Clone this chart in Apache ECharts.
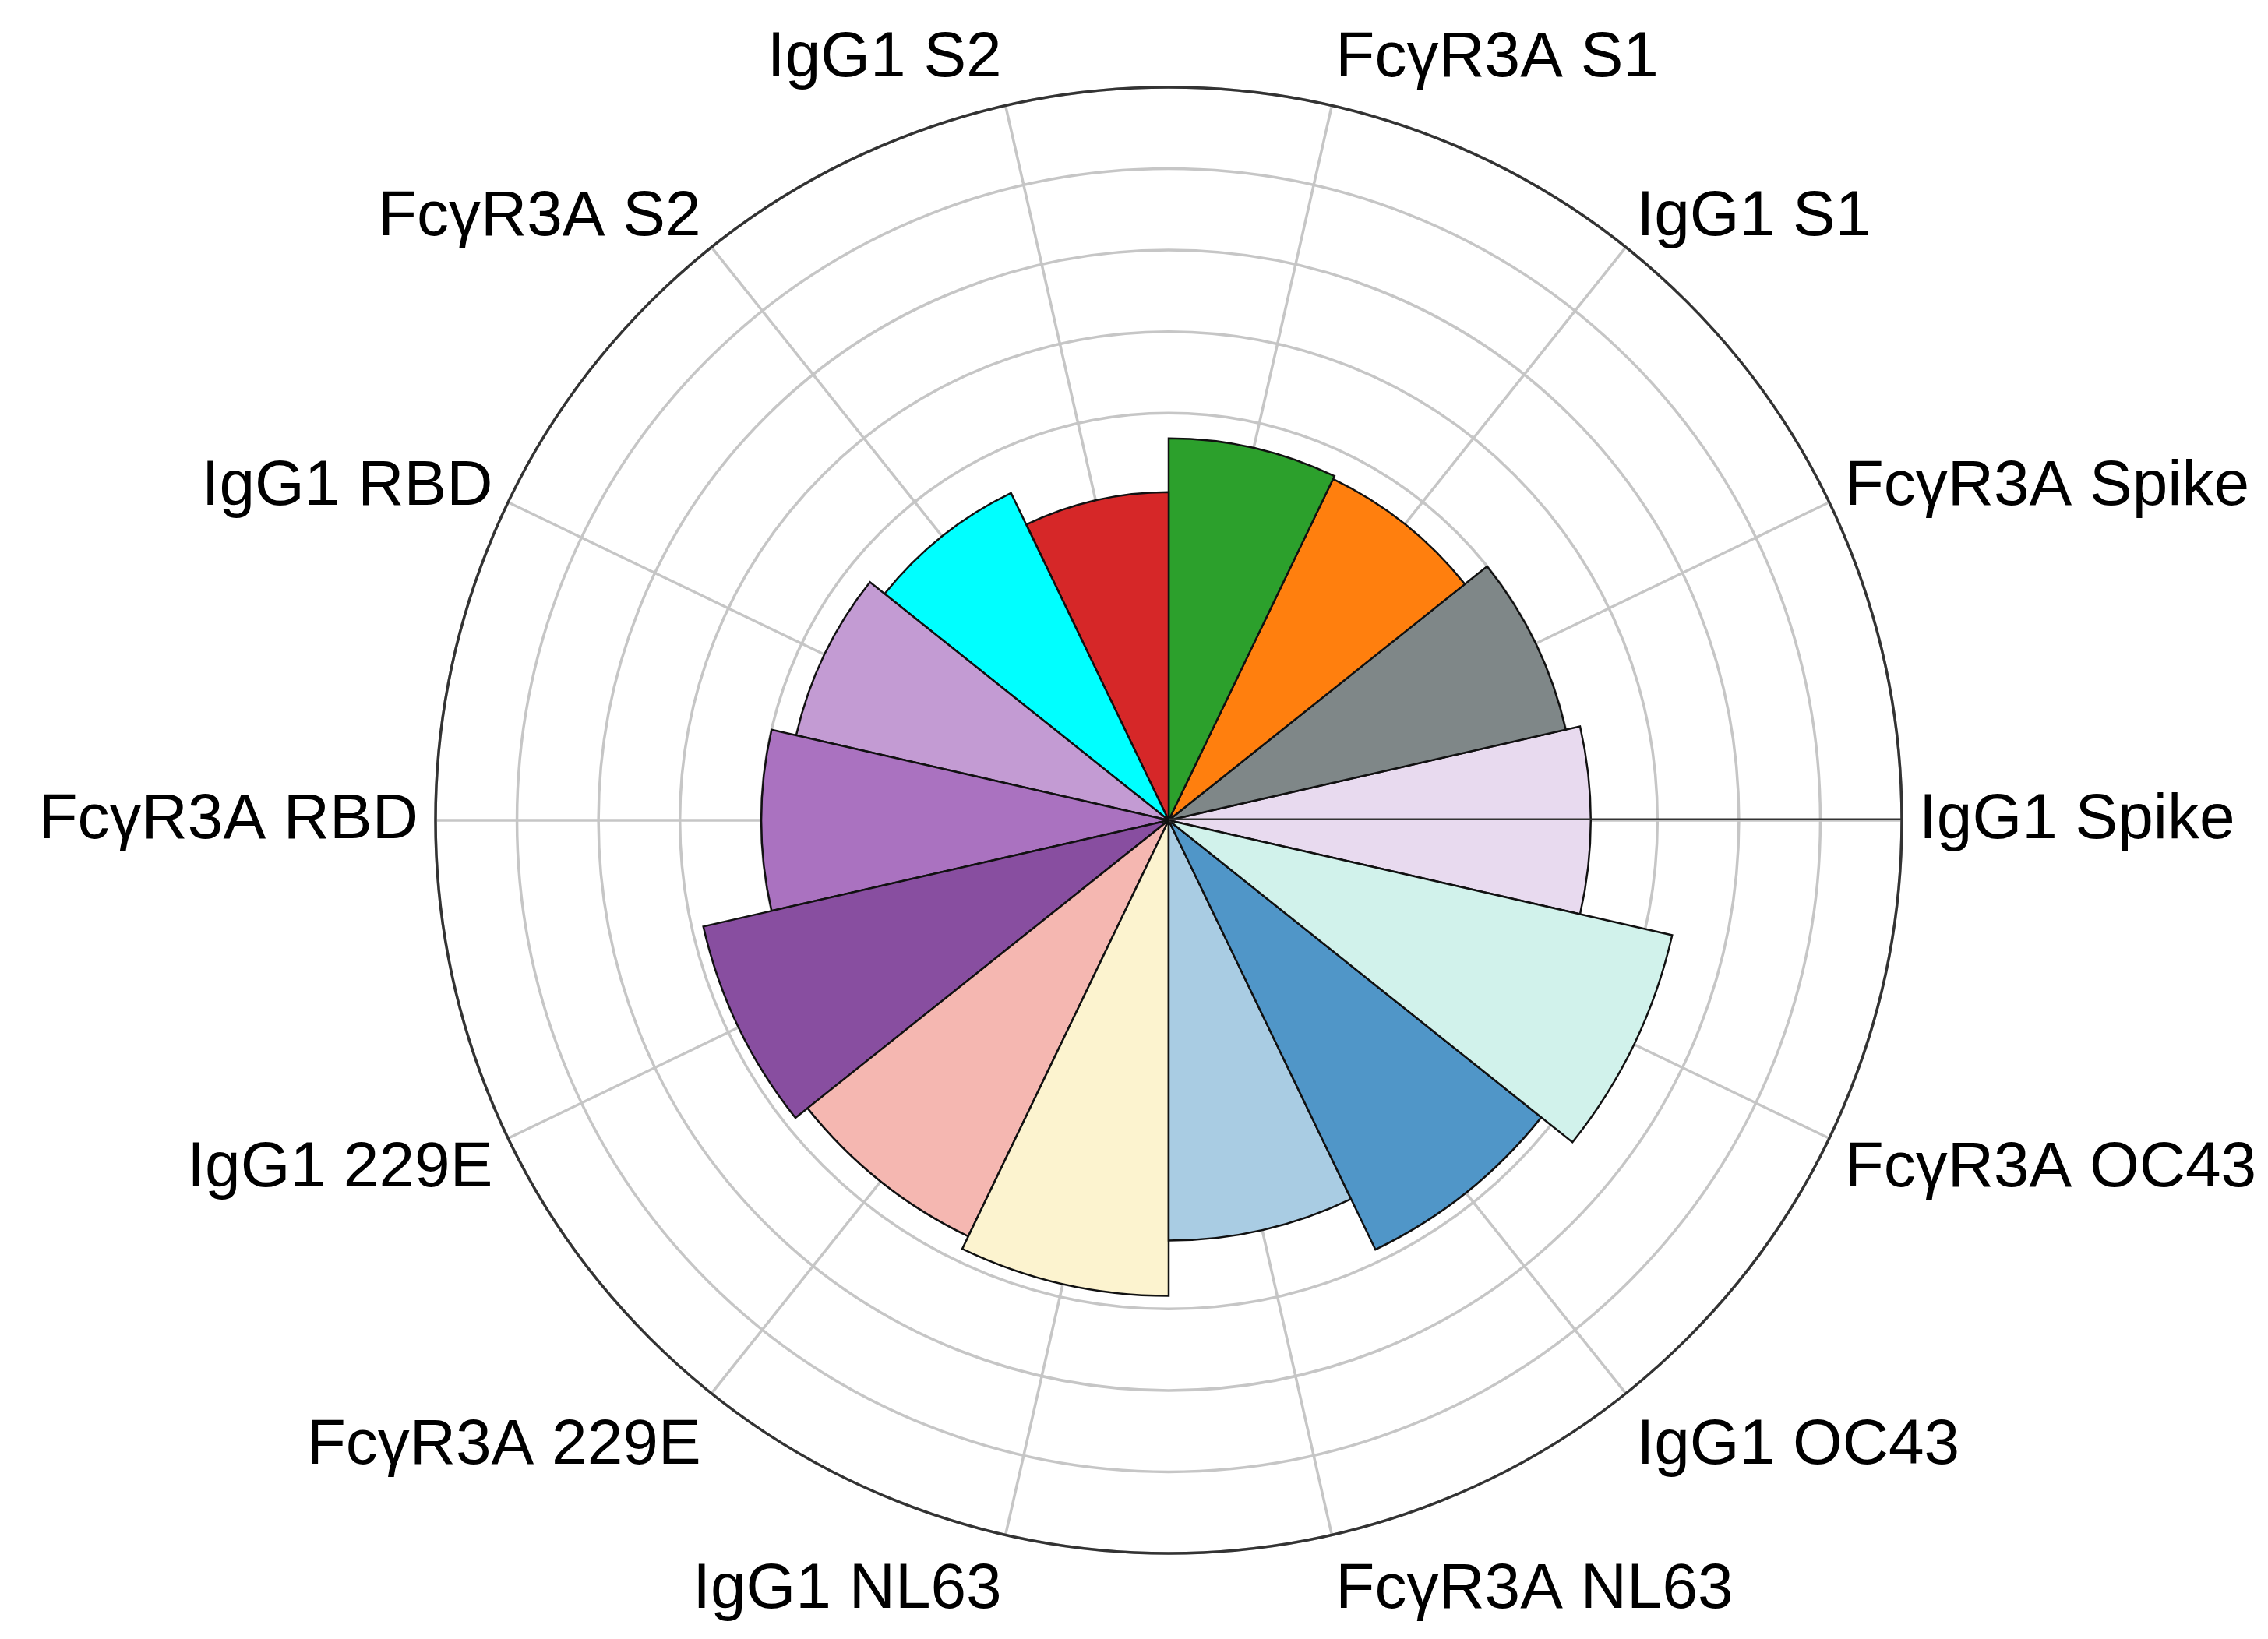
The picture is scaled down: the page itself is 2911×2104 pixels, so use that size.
<!DOCTYPE html>
<html>
<head>
<meta charset="utf-8">
<script src="https://cdn.jsdelivr.net/npm/echarts@6/dist/echarts.min.js"></script>
<style>
html,body{margin:0;padding:0;background:#fff;}
#chart{width:2911px;height:2104px;}
</style>
</head>
<body>
<div id="chart"></div>
<script>
const categories = ['IgG1 Spike','FcγR3A Spike','IgG1 S1','FcγR3A S1','IgG1 S2','FcγR3A S2','IgG1 RBD','FcγR3A RBD','IgG1 229E','FcγR3A 229E','IgG1 NL63','FcγR3A NL63','IgG1 OC43','FcγR3A OC43'];
const values = [5.18, 5.0, 4.65, 4.69, 4.03, 4.46, 4.69, 5.0, 5.86, 5.67, 5.84, 5.16, 5.85, 6.34];
const barColors = ['#E8DAEF','#7F8788','#FF7F0E','#2CA02C','#D62728','#00FFFF','#C39BD3','#AA72C0','#884EA0','#F5B7B1','#FCF3CF','#A9CCE3','#5096C8','#D1F2EB'];
const radiusMax = 9;

// label styling (not data)
const FONT = 'Liberation Sans';
const FS = 82;
const labelLineHeight = [82, 19, 41, 78, 78, 41, 19, 82, 59, 100, 100, 100, 100, 59];
const padBefore = {3:true, 11:true};
const padAfter = {4:true, 10:true};
const ctx = document.createElement('canvas').getContext('2d');
ctx.font = FS + 'px "' + FONT + '"';
const rich = {};
categories.forEach((c, i) => {
  const w = ctx.measureText(c).width;
  const st = {fontSize: FS, fontFamily: FONT, color: '#000', lineHeight: labelLineHeight[i]};
  if (padBefore[i]) st.padding = [0, 0, 0, w];
  if (padAfter[i]) st.padding = [0, w, 0, 0];
  rich['l' + i] = st;
});

const chart = echarts.init(document.getElementById('chart'), null, {renderer:'canvas'});
chart.setOption({
  backgroundColor:'#ffffff',
  animation:false,
  polar:[
    {center:[1500,1053], radius:941},
    {center:[1500,1053], radius:941}
  ],
  angleAxis:[
    {
      polarIndex:0,
      type:'value',
      min:0, max:categories.length, interval:1,
      startAngle:0,
      clockwise:false,
      axisLine:{show:true, lineStyle:{color:'#333333', width:3.5}},
      axisTick:{show:false},
      axisLabel:{
        show:true, margin:22, fontSize:FS, fontFamily:FONT, color:'#000',
        formatter:(v)=>{ const i = Math.round(v); return i < categories.length ? '{l' + i + '|' + categories[i] + '}' : ''; },
        rich: rich
      },
      splitLine:{show:true, lineStyle:{color:'#c6c6c6', width:3.5}},
      z:0
    },
    {
      polarIndex:1,
      type:'category',
      data:categories,
      startAngle:0,
      clockwise:false,
      boundaryGap:false,
      axisLine:{show:false},
      axisTick:{show:false},
      axisLabel:{show:false},
      splitLine:{show:false}
    }
  ],
  radiusAxis:[
    {
      polarIndex:0,
      type:'value',
      min:0, max:radiusMax, interval:1,
      axisLine:{show:false},
      axisTick:{show:false},
      axisLabel:{show:false},
      splitLine:{show:true, lineStyle:{color:'#c6c6c6', width:3.5}},
      z:0
    },
    {
      polarIndex:1,
      type:'value',
      min:0, max:radiusMax, interval:1,
      axisLine:{show:false},
      axisTick:{show:false},
      axisLabel:{show:false},
      splitLine:{show:false}
    }
  ],
  series:[{
    type:'bar',
    coordinateSystem:'polar',
    polarIndex:1,
    barCategoryGap:'0%',
    z:3,
    data: values.map((v,i)=>({value:v, itemStyle:{color:barColors[i]}})),
    itemStyle:{borderColor:'#111', borderWidth:2.5}
  },{
    // radial axis line along the first category, drawn above the bars
    type:'line',
    coordinateSystem:'polar',
    polarIndex:1,
    symbol:'none',
    silent:true,
    z:10,
    lineStyle:{color:'#333333', width:5},
    data:[[0, 0], [radiusMax, 0]]
  }]
});
</script>
</body>
</html>
